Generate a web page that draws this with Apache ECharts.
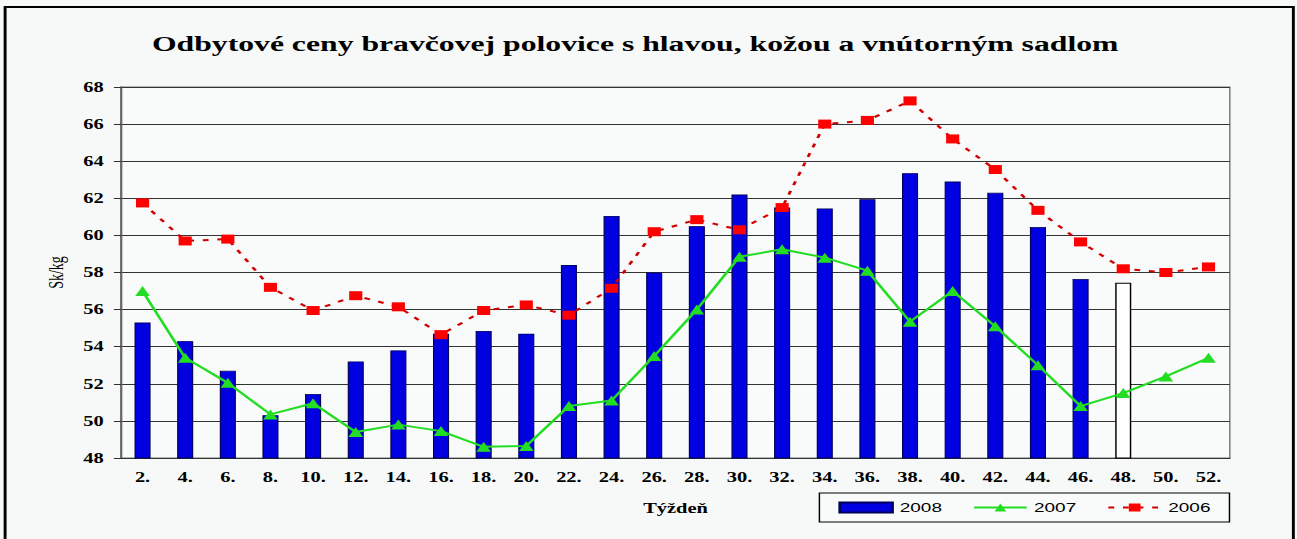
<!DOCTYPE html>
<html>
<head>
  <meta charset="utf-8" />
  <title>Odbytové ceny</title>
  <script src="https://cdn.jsdelivr.net/npm/echarts@6/dist/echarts.min.js"></script>
  <style>
    html, body { margin: 0; padding: 0; background: #f6f9f7; overflow: hidden; }
    /* the source picture is stretched sideways, so draw narrow and stretch */
    #main { position: absolute; left: 0; top: 0; width: 888px; height: 539px;
            transform: scaleX(1.4606); transform-origin: 0 0; }
  </style>
</head>
<body>
  <div id="main"></div>
  <script type="text/javascript">
    var weeks = ['2.', '4.', '6.', '8.', '10.', '12.', '14.', '16.', '18.', '20.', '22.', '24.', '26.',
                 '28.', '30.', '32.', '34.', '36.', '38.', '40.', '42.', '44.', '46.', '48.', '50.', '52.'];
    var v2008 = [55.3, 54.3, 52.7, 50.3, 51.45, 53.2, 53.8, 54.7, 54.85, 54.7, 58.4, 61.05, 58.0,
                 60.5, 62.2, 61.5, 61.45, 61.95, 63.35, 62.9, 62.3, 60.45, 57.65, 57.45, null, null];
    var v2007 = [57.0, 53.4, 52.05, 50.35, 50.95, 49.4, 49.8, 49.45, 48.6, 48.65, 50.8, 51.1, 53.5,
                 56.0, 58.85, 59.25, 58.8, 58.1, 55.35, 57.0, 55.1, 53.0, 50.8, 51.5, 52.4, 53.4];
    var v2006 = [61.75, 59.7, 59.8, 57.2, 55.95, 56.75, 56.15, 54.65, 55.95, 56.25, 55.7, 57.15, 60.2,
                 60.85, 60.3, 61.5, 66.0, 66.2, 67.25, 65.2, 63.55, 61.35, 59.65, 58.2, 58.0, 58.3];
    var openWeek = '48.';   // this bar is drawn hollow

    var serif = '"Liberation Serif", "Times New Roman", serif';
    var sans = '"Liberation Sans", Arial, sans-serif';

    var myChart = echarts.init(document.getElementById('main'), null, { renderer: 'svg' });

    var barData = v2008.map(function (v, i) {
      if (weeks[i] === openWeek) {
        return { value: v, itemStyle: { color: '#ffffff', borderColor: '#000000', borderWidth: 1 } };
      }
      return v;
    });

    var option = {
      backgroundColor: '#f6f9f7',
      animation: false,
      title: {
        text: 'Odbytové ceny bravčovej polovice s hlavou, kožou a vnútorným sadlom',
        left: 99,
        top: 28,
        textStyle: { fontFamily: serif, fontSize: 21.7, fontWeight: 'bold', color: '#000' }
      },
      graphic: [{
        type: 'rect',
        shape: { x: 3.5, y: 7, width: 882, height: 560 },
        style: { fill: null, stroke: '#000', lineWidth: 2 },
        silent: true
      }],
      legend: {
        left: 561,
        top: 493,
        padding: [8, 13],
        itemGap: 21,
        itemWidth: 36,
        itemHeight: 10,
        borderColor: '#000',
        borderWidth: 1,
        backgroundColor: '#f9fbfa',
        textStyle: { fontFamily: sans, fontSize: 13, color: '#000' },
        data: [{ name: '2008', icon: 'rect' }, '2007', '2006']
      },
      grid: {
        left: 83, right: 46, top: 87, bottom: 81,
        show: true,
        backgroundColor: '#f9fbfa',
        borderColor: '#777',
        borderWidth: 1
      },
      xAxis: {
        type: 'category',
        data: weeks,
        name: 'Týždeň',
        nameLocation: 'middle',
        nameGap: 43,
        nameTextStyle: { fontFamily: serif, fontSize: 14, fontWeight: 'bold', color: '#000' },
        axisLine: { lineStyle: { color: '#333', width: 1 } },
        axisTick: { interval: 1, length: 5, lineStyle: { color: '#333' } },
        axisLabel: { interval: 0, margin: 12, fontFamily: serif, fontSize: 14, fontWeight: 'bold', color: '#000' }
      },
      yAxis: {
        type: 'value',
        min: 48,
        max: 68,
        interval: 2,
        name: 'Sk/kg',
        nameLocation: 'middle',
        nameRotate: 90,
        nameGap: 38,
        nameTextStyle: { fontFamily: serif, fontSize: 14, color: '#000' },
        axisLine: { show: true, lineStyle: { color: '#666', width: 1.5 } },
        axisTick: { show: true, length: 5, lineStyle: { color: '#333' } },
        axisLabel: { margin: 12, fontFamily: serif, fontSize: 14, fontWeight: 'bold', color: '#000' },
        splitLine: { lineStyle: { color: '#333', width: 1 } }
      },
      series: [
        {
          name: '2008',
          type: 'bar',
          barWidth: 11,
          itemStyle: { color: '#0000e0', borderColor: '#00005a', borderWidth: 0.8 },
          data: barData
        },
        {
          name: '2007',
          type: 'line',
          symbol: 'triangle',
          symbolSize: 10,
          itemStyle: { color: '#22dd22' },
          lineStyle: { color: '#22dd22', width: 2 },
          data: v2007
        },
        {
          name: '2006',
          type: 'line',
          symbol: 'rect',
          symbolSize: 9,
          itemStyle: { color: '#ff0000' },
          lineStyle: { color: '#d00000', width: 2, type: [4, 6] },
          data: v2006
        }
      ]
    };

    myChart.setOption(option);
  </script>
</body>
</html>
